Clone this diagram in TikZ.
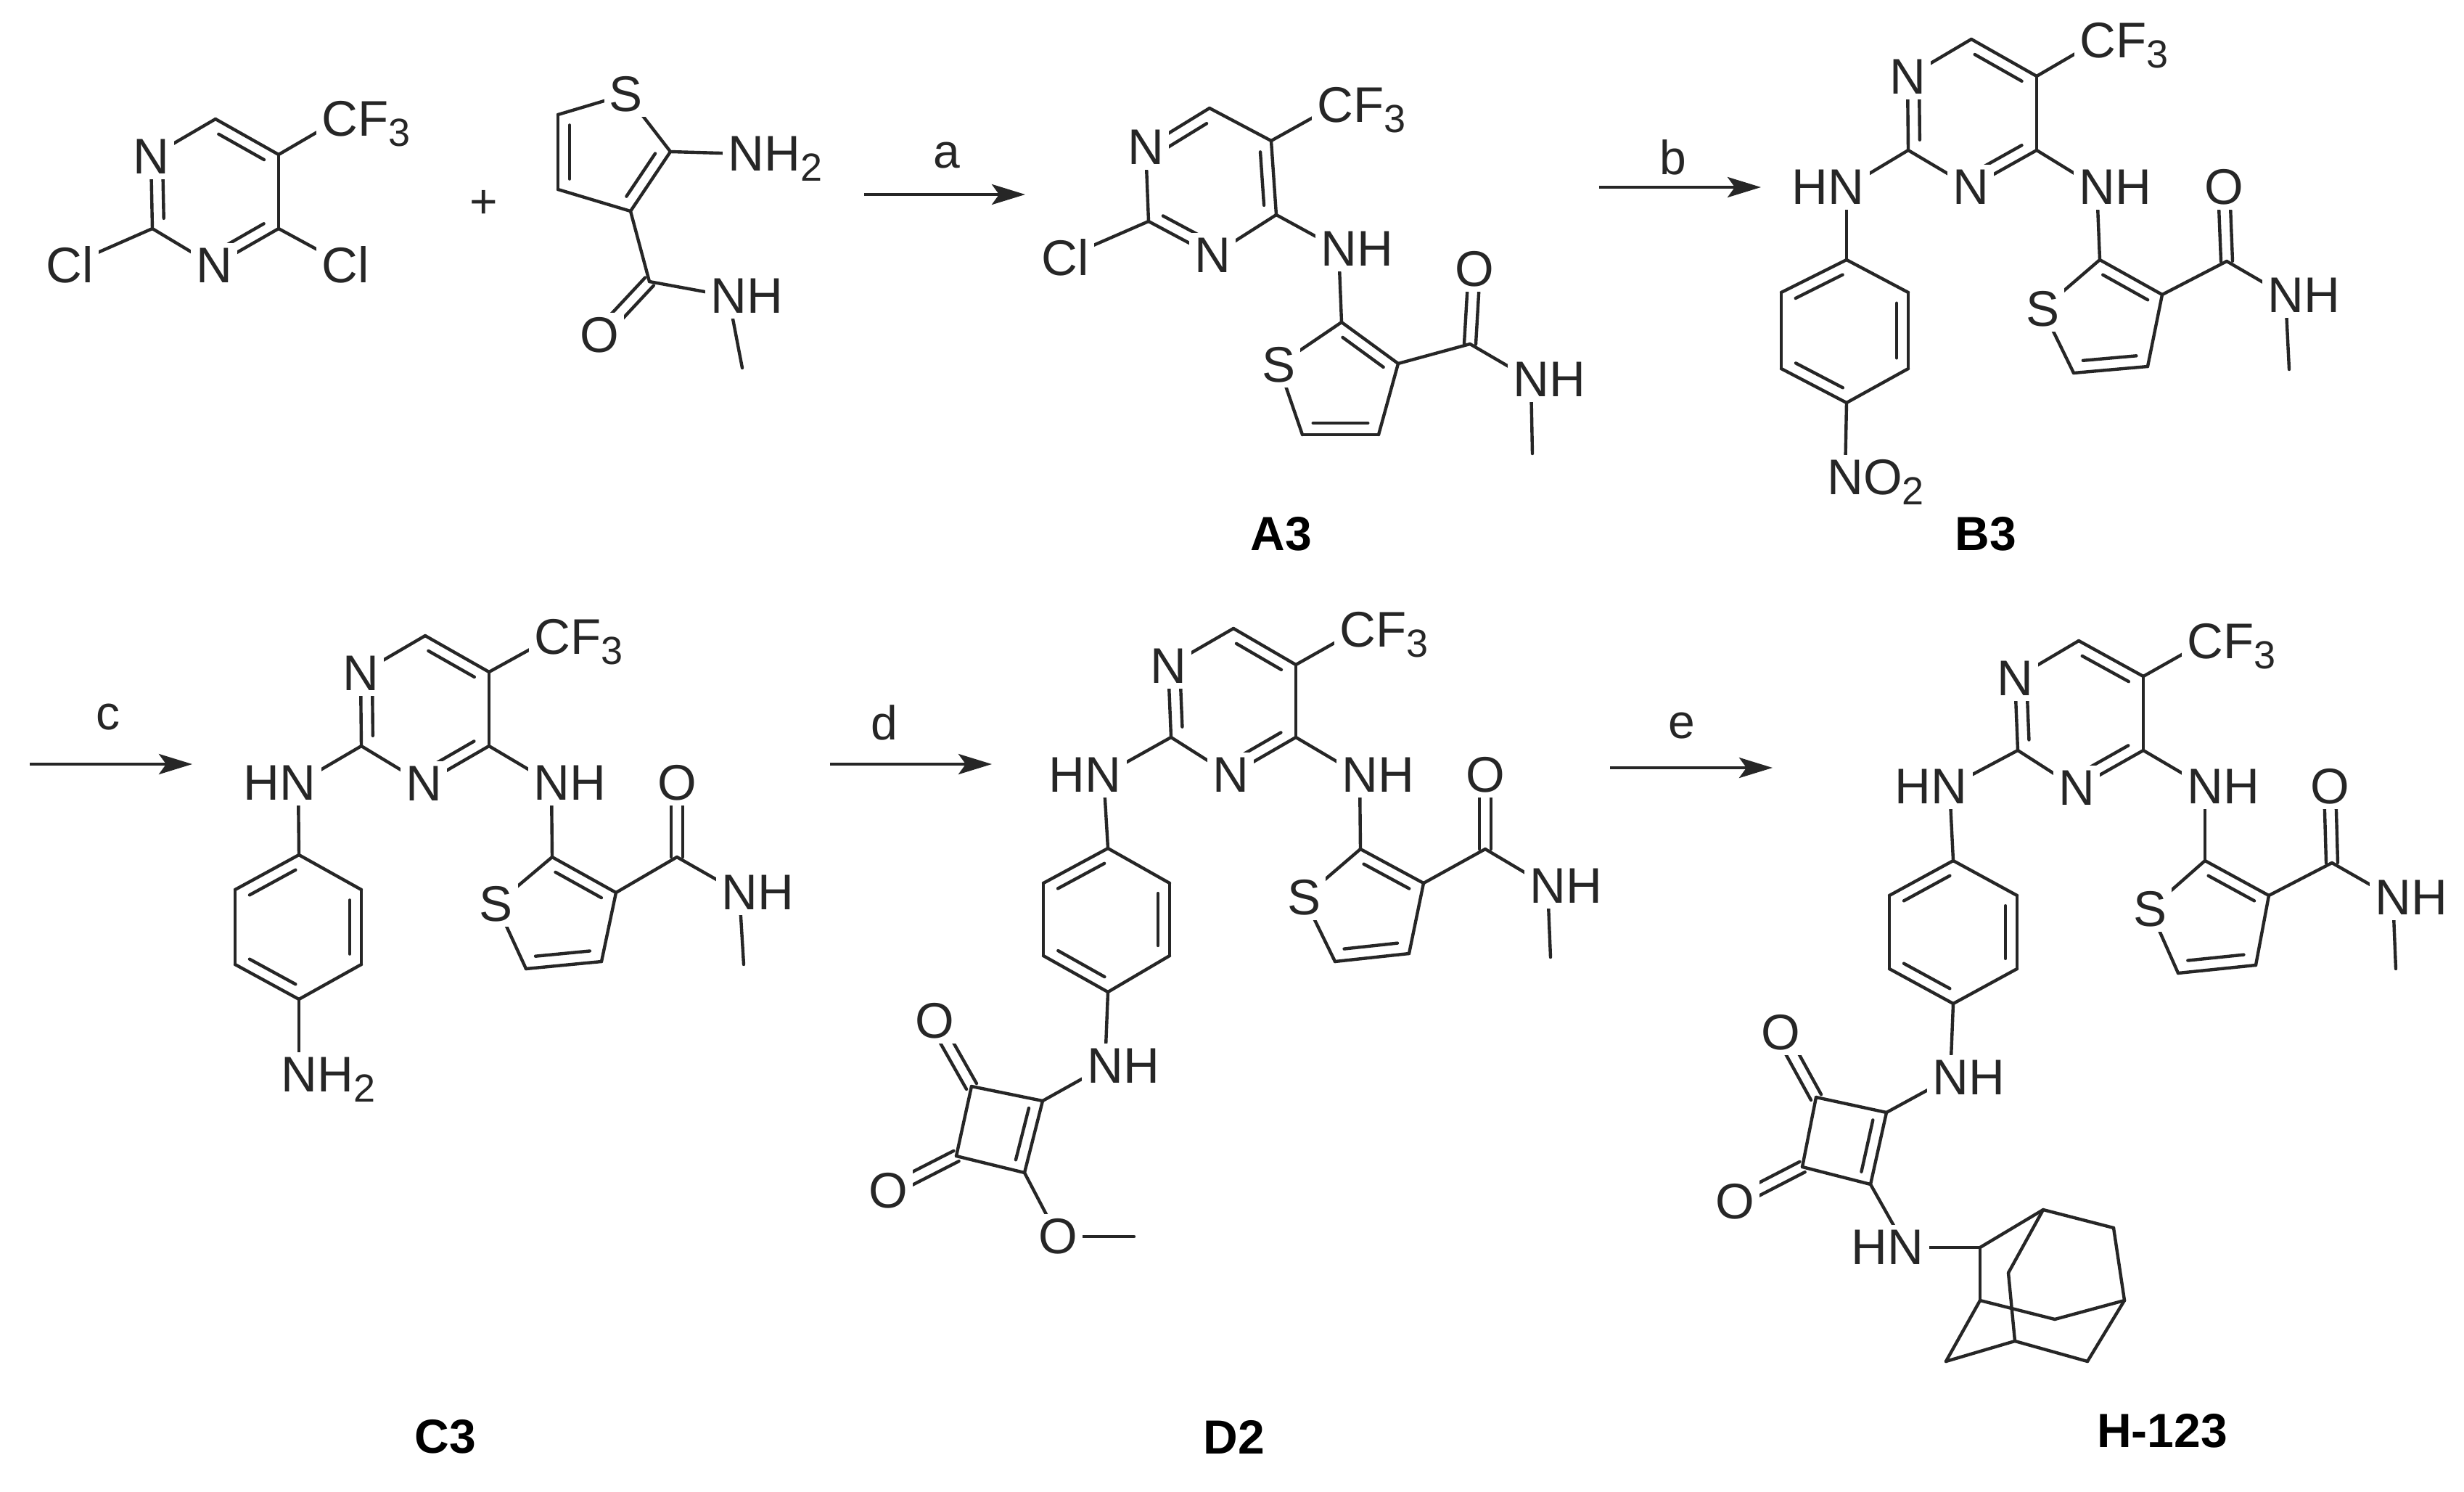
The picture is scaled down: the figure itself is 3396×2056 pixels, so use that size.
\documentclass[tikz,border=0pt]{standalone}
\usepackage{fontspec}
\setmainfont{Liberation Sans}
\usetikzlibrary{calc,arrows.meta}
\pgfdeclarelayer{bonds}
\pgfsetlayers{bonds,main}
\colorlet{ink}{black!85}
\tikzset{
  bond/.style={line width=2.2pt,draw=ink,line cap=round,line join=round},
  lab/.style={font=\fontsize{34.5}{34.5}\selectfont,text=ink,fill=white,inner sep=3.5pt},
  atomc/.style={lab},
  tailt/.style={lab,anchor=west,xshift=-16pt},
  headt/.style={lab,anchor=east,xshift=16pt},
  tag/.style={font=\fontsize{33}{33}\selectfont\bfseries,text=black,inner sep=0pt},
  cond/.style={font=\fontsize{33}{33}\selectfont,text=ink,inner sep=0pt},
  rxn/.style={line width=2.2pt,draw=ink,-{Stealth[length=23pt,width=14pt,inset=5pt]}}
}
\newcommand\subs[1]{\smash{\raisebox{-7pt}{\fontsize{27}{27}\selectfont #1}}}
\newcommand\atm[3]{\coordinate (#1) at (#2,#3);}
\newcommand\lbl[5]{\coordinate (#1) at (#2,#3); \node[#4] (#1-t) at (#1) {#5};}
\newcommand\bnd[2]{\begin{pgfonlayer}{bonds}\draw[bond] (#1) -- (#2);\end{pgfonlayer}}
\newcommand\dblo[3]{\begin{pgfonlayer}{bonds}\draw[bond] (#1) -- (#2);
  \draw[bond] ($(#1)!.14!(#2)!#3!90:(#2)$) -- ($(#2)!.14!(#1)!#3!-90:(#1)$);\end{pgfonlayer}}
\newcommand\dl[2]{\dblo{#1}{#2}{8pt}}
\newcommand\dr[2]{\dblo{#1}{#2}{-8pt}}
\newcommand\dc[2]{\begin{pgfonlayer}{bonds}
  \draw[bond] ($(#1)!4pt!90:(#2)$) -- ($(#2)!4pt!-90:(#1)$);
  \draw[bond] ($(#1)!-4pt!90:(#2)$) -- ($(#2)!-4pt!-90:(#1)$);\end{pgfonlayer}}
\newcommand\pyr[1]{\bnd{#1n1}{#1c6}\dr{#1c6}{#1c5}\bnd{#1c5}{#1c4}\dr{#1c4}{#1n3}\bnd{#1n3}{#1c2}\dl{#1n1}{#1c2}\bnd{#1c5}{#1cf}}
\newcommand\phn[1]{\dl{#1p1}{#1p6}\bnd{#1p1}{#1p2}\dr{#1p2}{#1p3}\bnd{#1p3}{#1p4}\dr{#1p4}{#1p5}\bnd{#1p5}{#1p6}}
\newcommand\thi[1]{\bnd{#1t2}{#1s}\dr{#1t2}{#1t3}\bnd{#1t3}{#1t4}\dr{#1t4}{#1t5}\bnd{#1t5}{#1s}}
\newcommand\amd[1]{\bnd{#1t3}{#1am}\dc{#1am}{#1o}\bnd{#1am}{#1nh}\bnd{#1nh}{#1me}}
\begin{document}
\begin{tikzpicture}[x=0.5pt,y=-0.5pt]
\useasboundingbox (0,0) rectangle (3396,2056);
\begin{pgfonlayer}{bonds}\fill[white] (0,0) rectangle (3396,2056);\end{pgfonlayer}

% ---------- starting pyrimidine
\lbl{mn1}{208}{216}{atomc}{N}
\atm{mc6}{297}{164}\atm{mc5}{384}{213}\atm{mc4}{384}{315}\atm{mc2}{210}{315}
\lbl{mn3}{295}{366}{atomc}{N}
\lbl{mcf}{468}{164}{tailt}{CF\subs{3}}
\lbl{mcl}{96}{365}{atomc}{Cl}
\lbl{mcr}{476}{365}{atomc}{Cl}
\pyr{m}\bnd{mc2}{mcl}\bnd{mc4}{mcr}
\node[cond] (plus) at (667,281) {+};

% ---------- aminothiophene
\lbl{ss}{863}{130}{atomc}{S}
\atm{st2}{924}{209}\atm{st3}{869}{291}\atm{st4}{769}{261}\atm{st5}{769}{158}
\lbl{snh}{1028}{212}{tailt}{NH\subs{2}}
\atm{sam}{895}{388}
\lbl{so}{826}{462}{atomc}{O}
\lbl{sn}{1004}{408}{tailt}{NH}
\atm{sme}{1023}{507}
\bnd{st2}{ss}\dr{st2}{st3}\bnd{st3}{st4}\dl{st5}{st4}\bnd{st5}{ss}\bnd{st2}{snh}
\bnd{st3}{sam}\dc{sam}{so}\bnd{sam}{sn}\bnd{sn}{sme}

% ---------- arrows
\atm{as}{1191}{268}\atm{ae}{1413}{268}\draw[rxn] (as) -- (ae);
\node[cond] (la) at (1305,214) {a};
\atm{bs}{2204}{258}\atm{be}{2427}{258}\draw[rxn] (bs) -- (be);
\node[cond] (lb) at (2306,217) {b};
\atm{cs}{41}{1053}\atm{ce}{265}{1053}\draw[rxn] (cs) -- (ce);
\node[cond] (lc) at (149,988) {c};
\atm{ds}{1144}{1053}\atm{de}{1367}{1053}\draw[rxn] (ds) -- (de);
\node[cond] (ld) at (1219,996) {d};
\atm{es}{2219}{1058}\atm{ee}{2443}{1058}\draw[rxn] (es) -- (ee);
\node[cond] (le) at (2318,1000) {e};

% ---------- A3
\lbl{an1}{1579}{203}{atomc}{N}
\atm{ac6}{1667}{149}\atm{ac5}{1752}{194}\atm{ac4}{1759}{296}\atm{ac2}{1583}{305}
\lbl{an3}{1671}{352}{atomc}{N}
\lbl{acf}{1840}{145}{tailt}{CF\subs{3}}
\lbl{acl}{1468}{355}{atomc}{Cl}
\lbl{anh}{1845}{343}{tailt}{NH}
\atm{at2}{1849}{444}\atm{at3}{1927}{501}\atm{at4}{1900}{599}\atm{at5}{1795}{599}
\lbl{as1}{1762}{503}{atomc}{S}
\atm{aam}{2026}{474}
\lbl{ao}{2032}{371}{atomc}{O}
\lbl{ann}{2110}{523}{tailt}{NH}
\atm{ame}{2112}{625}
\dr{an1}{ac6}\bnd{ac6}{ac5}\dr{ac5}{ac4}\bnd{ac4}{an3}\dl{ac2}{an3}\bnd{ac2}{an1}\bnd{ac5}{acf}
\bnd{ac2}{acl}\bnd{ac4}{anh}\bnd{anh}{at2}
\bnd{at2}{as1}\dr{at2}{at3}\bnd{at3}{at4}\dr{at4}{at5}\bnd{at5}{as1}
\bnd{at3}{aam}\dc{aam}{ao}\bnd{aam}{ann}\bnd{ann}{ame}
\node[tag] (tagA) at (1766,736) {A3};

% ---------- B3
\lbl{bn1}{2629}{106}{atomc}{N}
\atm{bc6}{2717}{54}\atm{bc5}{2807}{105}\atm{bc4}{2807}{207}\atm{bc2}{2630}{207}
\lbl{bn3}{2716}{258}{atomc}{N}
\lbl{bcf}{2891}{56}{tailt}{CF\subs{3}}
\lbl{bhn}{2545}{258}{headt}{HN}
\atm{bp1}{2545}{358}\atm{bp2}{2630}{403}\atm{bp3}{2630}{508}\atm{bp4}{2545}{555}\atm{bp5}{2455}{508}\atm{bp6}{2455}{403}
\lbl{bno}{2543}{658}{tailt}{NO\subs{2}}
\lbl{brn}{2890}{258}{tailt}{NH}
\atm{bt2}{2894}{358}\atm{bt3}{2980}{406}\atm{bt4}{2960}{505}\atm{bt5}{2858}{514}
\lbl{bs}{2815}{426}{atomc}{S}
\atm{bam}{3069}{360}
\lbl{bo}{3065}{258}{atomc}{O}
\lbl{bnh}{3150}{407}{tailt}{NH}
\atm{bme}{3155}{509}
\pyr{b}\phn{b}\thi{b}\amd{b}
\bnd{bc2}{bhn}\bnd{bhn}{bp1}\bnd{bp4}{bno}\bnd{bc4}{brn}\bnd{brn}{bt2}
\node[tag] (tagB) at (2737,736) {B3};

% ---------- C3
\lbl{cn1}{497}{928}{atomc}{N}
\atm{cc6}{586}{876}\atm{cc5}{674}{926}\atm{cc4}{674}{1028}\atm{cc2}{498}{1028}
\lbl{cn3}{584}{1080}{atomc}{N}
\lbl{ccf}{761}{878}{tailt}{CF\subs{3}}
\lbl{chn}{411}{1079}{headt}{HN}
\atm{cp1}{412}{1178}\atm{cp2}{498}{1226}\atm{cp3}{498}{1329}\atm{cp4}{412}{1377}\atm{cp5}{324}{1329}\atm{cp6}{324}{1226}
\lbl{cnt}{412}{1481}{tailt}{NH\subs{2}}
\lbl{crn}{760}{1079}{tailt}{NH}
\atm{ct2}{761}{1181}\atm{ct3}{849}{1230}\atm{ct4}{829}{1325}\atm{ct5}{725}{1335}
\lbl{cs1}{684}{1246}{atomc}{S}
\atm{cam}{933}{1181}
\lbl{co}{933}{1079}{atomc}{O}
\lbl{cnh}{1019}{1230}{tailt}{NH}
\atm{cme}{1025}{1329}
\bnd{cn1}{cc6}\dr{cc6}{cc5}\bnd{cc5}{cc4}\dr{cc4}{cn3}\bnd{cn3}{cc2}\dl{cn1}{cc2}\bnd{cc5}{ccf}
\phn{c}
\bnd{ct2}{cs1}\dr{ct2}{ct3}\bnd{ct3}{ct4}\dr{ct4}{ct5}\bnd{ct5}{cs1}
\amd{c}
\bnd{cc2}{chn}\bnd{chn}{cp1}\bnd{cp4}{cnt}\bnd{cc4}{crn}\bnd{crn}{ct2}
\node[tag] (tagC) at (614,1980) {C3};

% ---------- D2
\lbl{dn1}{1610}{918}{atomc}{N}
\atm{dc6}{1700}{866}\atm{dc5}{1786}{916}\atm{dc4}{1786}{1016}\atm{dc2}{1614}{1016}
\lbl{dn3}{1696}{1068}{atomc}{N}
\lbl{dcf}{1871}{868}{tailt}{CF\subs{3}}
\lbl{dhn}{1521}{1068}{headt}{HN}
\atm{dp1}{1527}{1169}\atm{dp2}{1612}{1217}\atm{dp3}{1612}{1317}\atm{dp4}{1527}{1367}\atm{dp5}{1438}{1317}\atm{dp6}{1438}{1217}
\lbl{dln}{1523}{1469}{tailt}{NH}
\atm{dqa}{1437}{1517}\atm{dqb}{1339}{1497}\atm{dqc}{1318}{1593}\atm{dqd}{1412}{1616}
\lbl{doa}{1288}{1407}{atomc}{O}
\lbl{dob}{1224}{1641}{atomc}{O}
\lbl{dom}{1458}{1704}{atomc}{O}
\atm{dmm}{1563}{1704}
\lbl{drn}{1874}{1068}{tailt}{NH}
\atm{dt2}{1875}{1170}\atm{dt3}{1962}{1217}\atm{dt4}{1942}{1314}\atm{dt5}{1840}{1325}
\lbl{ds1}{1797}{1237}{atomc}{S}
\atm{dam}{2047}{1170}
\lbl{do}{2047}{1068}{atomc}{O}
\lbl{dnh}{2133}{1221}{tailt}{NH}
\atm{dme}{2137}{1319}
\pyr{d}\phn{d}
\bnd{dt2}{ds1}\dr{dt2}{dt3}\bnd{dt3}{dt4}\dr{dt4}{dt5}\bnd{dt5}{ds1}
\amd{d}
\bnd{dc2}{dhn}\bnd{dhn}{dp1}\bnd{dp4}{dln}\bnd{dln}{dqa}\bnd{dc4}{drn}\bnd{drn}{dt2}
\dr{dqa}{dqd}\bnd{dqa}{dqb}\bnd{dqb}{dqc}\bnd{dqc}{dqd}
\dc{dqb}{doa}\dc{dqc}{dob}\bnd{dqd}{dom}\bnd{dom}{dmm}
\node[tag] (tagD) at (1701,1980) {D2};

% ---------- H-123
\lbl{hn1}{2777}{935}{atomc}{N}
\atm{hc6}{2865}{883}\atm{hc5}{2954}{932}\atm{hc4}{2954}{1034}\atm{hc2}{2781}{1034}
\lbl{hn3}{2862}{1086}{atomc}{N}
\lbl{hcf}{3039}{884}{tailt}{CF\subs{3}}
\lbl{hhn}{2687}{1084}{headt}{HN}
\atm{hp1}{2692}{1186}\atm{hp2}{2780}{1234}\atm{hp3}{2780}{1335}\atm{hp4}{2692}{1383}\atm{hp5}{2604}{1335}\atm{hp6}{2604}{1234}
\lbl{hln}{2688}{1485}{tailt}{NH}
\atm{hqa}{2600}{1533}\atm{hqb}{2503}{1512}\atm{hqc}{2484}{1608}\atm{hqd}{2578}{1632}
\lbl{hoa}{2454}{1423}{atomc}{O}
\lbl{hob}{2391}{1656}{atomc}{O}
\lbl{hax}{2627}{1719}{headt}{HN}
\atm{hda}{2729}{1719}\atm{hdb}{2816}{1667}\atm{hdc}{2913}{1692}\atm{hdd}{2928}{1792}\atm{hde}{2877}{1876}
\atm{hdf}{2777}{1848}\atm{hdg}{2682}{1876}\atm{hdh}{2729}{1792}\atm{hdi}{2768}{1754}\atm{hdj}{2832}{1818}
\lbl{hrn}{3039}{1084}{tailt}{NH}
\atm{ht2}{3039}{1186}\atm{ht3}{3127}{1234}\atm{ht4}{3109}{1330}\atm{ht5}{3002}{1341}
\lbl{hs1}{2963}{1253}{atomc}{S}
\atm{ham}{3214}{1189}
\lbl{ho}{3211}{1084}{atomc}{O}
\lbl{hnh}{3298}{1237}{tailt}{NH}
\atm{hme}{3302}{1335}
\pyr{h}\phn{h}
\bnd{ht2}{hs1}\dr{ht2}{ht3}\bnd{ht3}{ht4}\dr{ht4}{ht5}\bnd{ht5}{hs1}
\amd{h}
\bnd{hc2}{hhn}\bnd{hhn}{hp1}\bnd{hp4}{hln}\bnd{hln}{hqa}\bnd{hc4}{hrn}\bnd{hrn}{ht2}
\dr{hqa}{hqd}\bnd{hqa}{hqb}\bnd{hqb}{hqc}\bnd{hqc}{hqd}
\dc{hqb}{hoa}\dc{hqc}{hob}\bnd{hqd}{hax}\bnd{hax}{hda}
\bnd{hda}{hdb}\bnd{hdb}{hdc}\bnd{hdc}{hdd}\bnd{hdd}{hde}\bnd{hde}{hdf}\bnd{hdf}{hdg}\bnd{hdg}{hdh}\bnd{hdh}{hda}
\bnd{hdb}{hdi}\bnd{hdi}{hdf}\bnd{hdh}{hdj}\bnd{hdj}{hdd}
\node[tag] (tagH) at (2980,1972) {H-123};
\end{tikzpicture}
\end{document}
